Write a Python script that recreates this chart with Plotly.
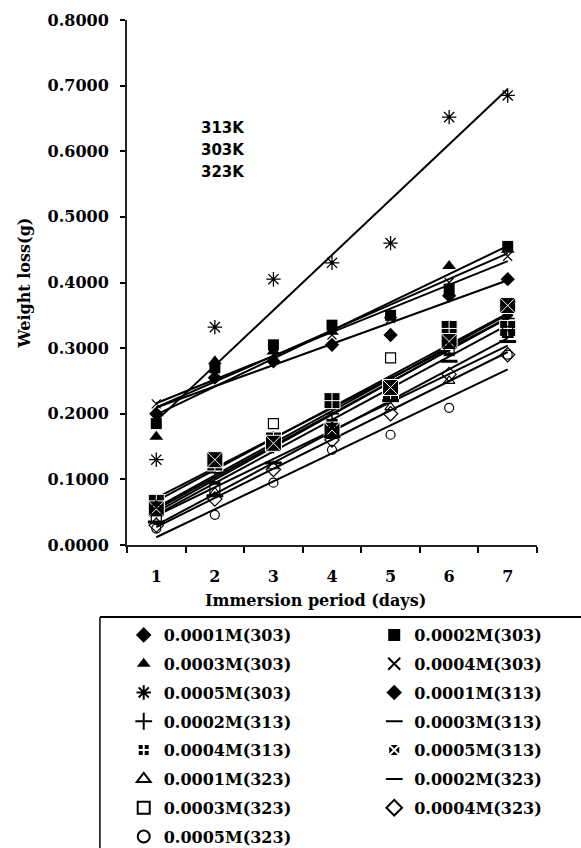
import numpy as np
import plotly.graph_objects as go

# Immersion period (days)
days = [1, 2, 3, 4, 5, 6, 7]
day_labels = ["1", "2", "3", "4", "5", "6", "7"]

# Weight loss (g) at 303 K
w_0001_303 = [0.200, 0.255, 0.280, 0.305, 0.320, 0.380, 0.405]
w_0002_303 = [0.185, 0.270, 0.305, 0.335, 0.350, 0.390, 0.455]
w_0003_303 = [0.165, 0.280, 0.295, 0.325, 0.350, 0.425, 0.450]
w_0004_303 = [0.215, 0.260, 0.290, 0.320, 0.345, 0.400, 0.440]
w_0005_303 = [0.130, 0.332, 0.405, 0.430, 0.460, 0.652, 0.685]

# Weight loss (g) at 313 K
w_0001_313 = [0.060, 0.120, 0.165, 0.215, 0.250, 0.310, 0.350]
w_0002_313 = [0.050, 0.110, 0.150, 0.200, 0.245, 0.300, 0.345]
w_0003_313 = [0.045, 0.095, 0.145, 0.190, 0.235, 0.290, 0.335]
w_0004_313 = [0.065, 0.125, 0.160, 0.220, 0.230, 0.330, 0.330]
w_0005_313 = [0.055, 0.130, 0.155, 0.175, 0.240, 0.310, 0.365]

# Weight loss (g) at 323 K
w_0001_323 = [0.060, 0.080, 0.120, 0.180, 0.210, 0.250, 0.320]
w_0002_323 = [0.035, 0.075, 0.125, 0.165, 0.220, 0.280, 0.310]
w_0003_323 = [0.040, 0.085, 0.185, 0.170, 0.285, 0.300, 0.325]
w_0004_323 = [0.030, 0.070, 0.115, 0.160, 0.200, 0.260, 0.290]
w_0005_323 = [0.025, 0.046, 0.095, 0.145, 0.168, 0.209, 0.290]

series_names = [
    "0.0001M(303)", "0.0002M(303)", "0.0003M(303)", "0.0004M(303)", "0.0005M(303)",
    "0.0001M(313)", "0.0002M(313)", "0.0003M(313)", "0.0004M(313)", "0.0005M(313)",
    "0.0001M(323)", "0.0002M(323)", "0.0003M(323)", "0.0004M(323)", "0.0005M(323)",
]
series_values = [
    w_0001_303, w_0002_303, w_0003_303, w_0004_303, w_0005_303,
    w_0001_313, w_0002_313, w_0003_313, w_0004_313, w_0005_313,
    w_0001_323, w_0002_323, w_0003_323, w_0004_323, w_0005_323,
]

temperature_labels = ["313K", "303K", "323K"]

# marker styles: (symbol, size, colour, outline colour, outline width)
# open symbols are stroked with the marker colour
marker_styles = [
    ("diamond", 11, "black", "black", 0),
    ("square", 11, "black", "black", 0),
    ("triangle-up", 12, "black", "black", 0),
    ("x-thin-open", 9, "black", "black", 1.2),
    ("asterisk-open", 12, "black", "black", 1.3),
    ("diamond", 9, "black", "black", 0),
    ("cross-thin-open", 10, "black", "black", 1.5),
    ("line-ew-open", 8, "black", "black", 3),
    ("square-cross", 16, "black", "white", 1),
    ("square-x", 16, "black", "white", 1),
    ("triangle-up-open", 10, "black", "black", 1.2),
    ("line-ew-open", 12, "black", "black", 3),
    ("square-open", 10, "black", "black", 1.2),
    ("diamond-open", 11, "black", "black", 1.2),
    ("circle-open", 9, "black", "black", 1.2),
]

serif = dict(family="DejaVu Serif", size=16, color="black", weight="bold")

fig = go.Figure()

# least-squares trendlines, drawn first so the markers sit on top
x_num = np.array(days, dtype=float)
for name, vals in zip(series_names, series_values):
    slope, intercept = np.polyfit(x_num, np.array(vals), 1)
    fig.add_trace(go.Scatter(
        x=[day_labels[0], day_labels[-1]],
        y=[slope * days[0] + intercept, slope * days[-1] + intercept],
        mode="lines", line=dict(color="black", width=2),
        showlegend=False, hoverinfo="skip",
    ))

# markers; legend entries alternate between a left and a right column
for i, (name, vals, (sym, size, fill, edge, lw)) in enumerate(
        zip(series_names, series_values, marker_styles)):
    fig.add_trace(go.Scatter(
        x=day_labels, y=vals, mode="markers", name=name,
        legend="legend" if i % 2 == 0 else "legend2",
        legendgroup=name,
        marker=dict(symbol=sym, size=size, color=fill,
                    line=dict(color=edge, width=lw)),
    ))

# temperature labels inside the plot
for i, txt in enumerate(temperature_labels):
    fig.add_annotation(
        x=0.1756, y=0.794 - i * 0.042, xref="paper", yref="paper",
        text=txt, showarrow=False, xanchor="left", yanchor="middle",
        font=dict(family="DejaVu Sans", size=15, color="black", weight="bold"),
    )

# axis titles
fig.add_annotation(
    x=-0.249, y=0.5, xref="paper", yref="paper", text="Weight loss(g)",
    textangle=-90, showarrow=False, xanchor="center", yanchor="middle",
    font=serif,
)
fig.add_annotation(
    x=0.459, y=-0.105, xref="paper", yref="paper", text="Immersion period (days)",
    showarrow=False, xanchor="center", yanchor="middle", font=serif,
)

# legend frame (top and left edges)
fig.add_shape(type="line", xref="paper", yref="paper",
              x0=-0.066, x1=1.2, y0=-0.137, y1=-0.137,
              line=dict(color="black", width=2))
fig.add_shape(type="line", xref="paper", yref="paper",
              x0=-0.066, x1=-0.066, y0=-0.137, y1=-0.6,
              line=dict(color="black", width=1.5))

legend_common = dict(
    orientation="v", yanchor="top", xanchor="left",
    itemsizing="constant", font=serif,
    bgcolor="rgba(0,0,0,0)", borderwidth=0,
    traceorder="grouped", tracegroupgap=5,
)

fig.update_layout(
    width=581, height=848,
    margin=dict(l=127, r=44, t=20, b=303, autoexpand=False),
    plot_bgcolor="white", paper_bgcolor="white",
    showlegend=True,
    legend=dict(x=-0.008, y=-0.139, **legend_common),
    legend2=dict(x=0.603, y=-0.139, **legend_common),
    xaxis=dict(
        type="category", categoryorder="array", categoryarray=day_labels,
        range=[-0.5, 6.5], tickson="boundaries",
        ticks="outside", ticklen=6, tickwidth=1.5, tickcolor="black",
        showline=True, linewidth=2, linecolor="#222",
        showgrid=False, zeroline=False,
        tickfont=serif, ticklabelstandoff=16,
    ),
    yaxis=dict(
        range=[0, 0.8], dtick=0.1, tickformat=".4f",
        ticks="outside", ticklen=5, tickwidth=1.5, tickcolor="black",
        showline=True, linewidth=2, linecolor="#222",
        showgrid=False, zeroline=False,
        tickfont=serif, ticklabelstandoff=8,
    ),
)

fig.write_html("out.html")
